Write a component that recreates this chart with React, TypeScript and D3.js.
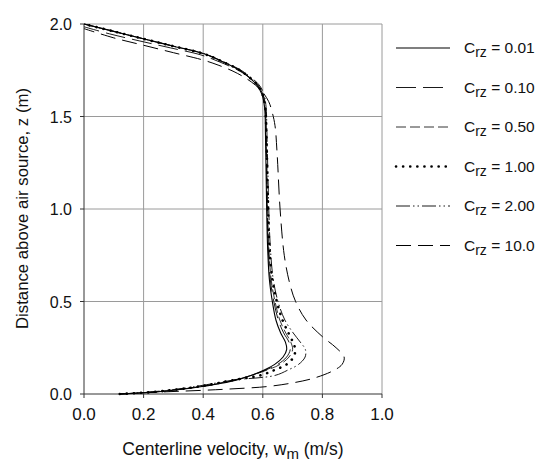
import React from "react";
import * as d3 from "d3";

// z positions (m) shared by the first five series
const zLevels = [0, 0.012, 0.03, 0.05, 0.075, 0.1, 0.13, 0.16, 0.2, 0.24, 0.28, 0.33, 0.4, 0.5, 0.62, 0.8, 1.0, 1.2, 1.4, 1.55, 1.62, 1.67, 1.71, 1.75, 1.8, 1.84, 1.88, 1.92, 1.96, 2.0];

const vC001 = [0.12, 0.25, 0.35, 0.434, 0.51, 0.56, 0.605, 0.64, 0.668, 0.68, 0.676, 0.66, 0.644, 0.632, 0.622, 0.616, 0.613, 0.611, 0.609, 0.606, 0.597, 0.58, 0.555, 0.523, 0.46, 0.4, 0.3, 0.199, 0.1, 0.0];
const vC010 = [0.12, 0.245, 0.345, 0.43, 0.505, 0.56, 0.61, 0.65, 0.68, 0.692, 0.688, 0.67, 0.652, 0.637, 0.625, 0.618, 0.615, 0.613, 0.611, 0.608, 0.6, 0.583, 0.556, 0.52, 0.455, 0.392, 0.29, 0.185, 0.085, 0.0];
const vC050 = [0.12, 0.242, 0.342, 0.425, 0.502, 0.56, 0.615, 0.658, 0.688, 0.7, 0.694, 0.677, 0.657, 0.641, 0.628, 0.62, 0.616, 0.614, 0.612, 0.609, 0.601, 0.584, 0.557, 0.523, 0.46, 0.4, 0.3, 0.199, 0.1, 0.0];
const vC100 = [0.12, 0.24, 0.34, 0.42, 0.5, 0.59, 0.64, 0.68, 0.703, 0.709, 0.701, 0.686, 0.666, 0.647, 0.632, 0.622, 0.618, 0.615, 0.612, 0.608, 0.599, 0.582, 0.556, 0.523, 0.46, 0.4, 0.3, 0.199, 0.1, 0.0];
const vC200 = [0.12, 0.23, 0.33, 0.41, 0.5, 0.64, 0.685, 0.72, 0.742, 0.743, 0.726, 0.702, 0.674, 0.651, 0.635, 0.625, 0.62, 0.617, 0.614, 0.611, 0.604, 0.588, 0.561, 0.527, 0.463, 0.403, 0.302, 0.2, 0.1, 0.0];

// C = 10 has its own (v, z) pairs
const vC10 = [0.12, 0.277, 0.4, 0.5, 0.613, 0.7, 0.77, 0.835, 0.866, 0.873, 0.846, 0.8, 0.745, 0.71, 0.69, 0.672, 0.658, 0.648, 0.641, 0.632, 0.62, 0.6, 0.575, 0.54, 0.5, 0.45, 0.4, 0.3, 0.2, 0.1, 0.0];
const zC10 = [0.0, 0.012, 0.02, 0.028, 0.04, 0.06, 0.085, 0.125, 0.16, 0.2, 0.25, 0.31, 0.4, 0.5, 0.6, 0.75, 1.0, 1.3, 1.45, 1.52, 1.58, 1.63, 1.67, 1.71, 1.745, 1.778, 1.805, 1.845, 1.885, 1.925, 1.975];

const legendLabels = ["0.01", "0.10", "0.50", "1.00", "2.00", "10.0"];
const xTicks = [0, 0.2, 0.4, 0.6, 0.8, 1.0];
const yTicks = [0, 0.5, 1.0, 1.5, 2.0];

type Style = { dash: string; width: number; cap?: "round" | "butt" };
const styles: Style[] = [
  { dash: "", width: 1.1 },
  { dash: "20,7", width: 0.9 },
  { dash: "10,4", width: 0.8 },
  { dash: "0.1,7", width: 2.6, cap: "round" },
  { dash: "14,3,1.5,3,1.5,3", width: 0.9 },
  { dash: "15,7", width: 1.0 },
];

export default function App() {
  const x = d3.scaleLinear().domain([0, 1]).range([84, 382]);
  const y = d3.scaleLinear().domain([0, 2]).range([394, 24]);
  const line = d3
    .line<[number, number]>()
    .x((d) => x(d[0]))
    .y((d) => y(d[1]))
    .curve(d3.curveCatmullRom.alpha(0.5));

  const seriesPts: [number, number][][] = [
    vC001.map((v, i) => [v, zLevels[i]]),
    vC010.map((v, i) => [v, zLevels[i] - (zLevels[i] > 1.7 ? (zLevels[i] - 1.7) * 0.05 : 0)]),
    vC050.map((v, i) => [v, zLevels[i]]),
    vC100.map((v, i) => [v, zLevels[i]]),
    vC200.map((v, i) => [v, zLevels[i]]),
    vC10.map((v, i) => [v, zC10[i]]),
  ];

  const font = "Arial, 'Liberation Sans', Helvetica, sans-serif";

  return (
    <svg width={547} height={469} style={{ position: "absolute", left: 0, top: 0, background: "#fff" }} fontFamily={font}>
      <rect x={0} y={0} width={547} height={469} fill="#fff" />
      {/* grid */}
      {xTicks.slice(1).map((t) => (
        <line key={"gx" + t} x1={x(t)} x2={x(t)} y1={y(0)} y2={y(2)} stroke="#9a9a9a" strokeWidth={1} />
      ))}
      {yTicks.slice(1).map((t) => (
        <line key={"gy" + t} x1={x(0)} x2={x(1)} y1={y(t)} y2={y(t)} stroke="#9a9a9a" strokeWidth={1} />
      ))}
      {/* axes */}
      <line x1={x(0)} x2={x(0)} y1={y(0)} y2={y(2)} stroke="#333" strokeWidth={1} />
      <line x1={x(0)} x2={x(1)} y1={y(0)} y2={y(0)} stroke="#333" strokeWidth={1} />
      {yTicks.map((t) => (
        <g key={"ty" + t}>
          <line x1={x(0) - 4} x2={x(0)} y1={y(t)} y2={y(t)} stroke="#333" />
          <text x={72} y={y(t) + 6} fontSize={16} textAnchor="end" fill="#111">
            {t.toFixed(1)}
          </text>
        </g>
      ))}
      {xTicks.map((t) => (
        <g key={"tx" + t}>
          <line x1={x(t)} x2={x(t)} y1={y(0)} y2={y(0) + 4} stroke="#333" />
          <text x={x(t)} y={420} fontSize={17} textAnchor="middle" fill="#111">
            {t.toFixed(1)}
          </text>
        </g>
      ))}
      {/* series */}
      {seriesPts.map((pts, i) => (
        <path
          key={"s" + i}
          d={line(pts) || ""}
          fill="none"
          stroke="#000"
          strokeWidth={styles[i].width}
          strokeDasharray={styles[i].dash}
          strokeLinecap={styles[i].cap || "butt"}
        />
      ))}
      {/* titles */}
      <text x={233} y={455} fontSize={17.5} textAnchor="middle" fill="#111">
        Centerline velocity, w<tspan fontSize={15} dy={4}>m</tspan>
        <tspan dy={-4}> (m/s)</tspan>
      </text>
      <text
        transform="translate(28,208.5) rotate(-90)"
        fontSize={15.8}
        textAnchor="middle"
        textLength={241}
        lengthAdjust="spacingAndGlyphs"
        fill="#111"
      >
        Distance above air source, z (m)
      </text>
      {/* legend */}
      {legendLabels.map((lab, i) => {
        const ly = 48 + i * 39.5;
        return (
          <g key={"l" + i}>
            <line
              x1={396}
              x2={450}
              y1={ly}
              y2={ly}
              stroke="#000"
              strokeWidth={styles[i].width}
              strokeDasharray={styles[i].dash}
              strokeLinecap={styles[i].cap || "butt"}
            />
            <text x={464} y={ly + 5} fontSize={15.5} fill="#111">
              C<tspan fontSize={14} dy={4}>rz</tspan>
              <tspan dy={-4}> = {lab}</tspan>
            </text>
          </g>
        );
      })}
    </svg>
  );
}
